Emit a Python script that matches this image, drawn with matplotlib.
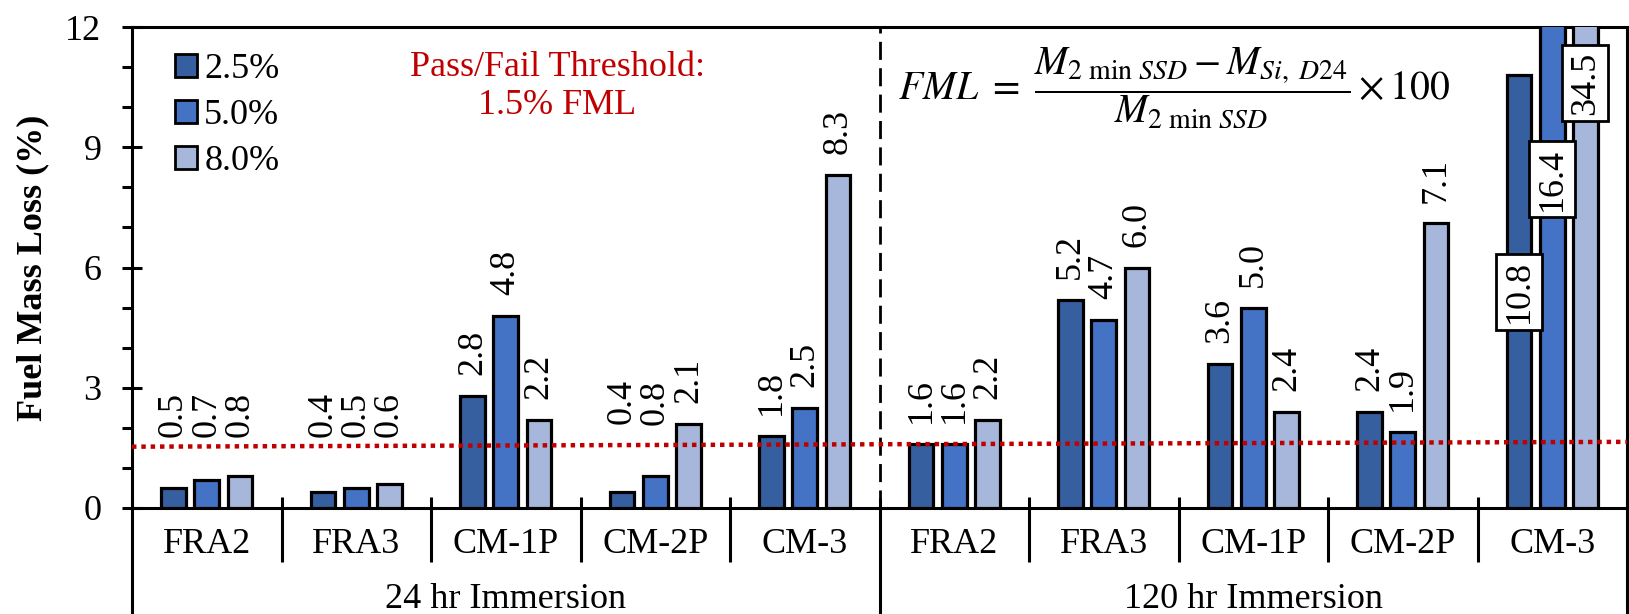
import matplotlib.pyplot as plt
from matplotlib.patches import Patch
from matplotlib.ticker import MultipleLocator

plt.rcParams['font.family'] = ['Liberation Serif', 'DejaVu Serif']
plt.rcParams['mathtext.fontset'] = 'stix'

materials = ['FRA2', 'FRA3', 'CM-1P', 'CM-2P', 'CM-3']
durations = ['24 hr Immersion', '120 hr Immersion']
series = ['2.5%', '5.0%', '8.0%']
# first 5 = 24 hr, last 5 = 120 hr
fml_25 = [0.5, 0.4, 2.8, 0.4, 1.8, 1.6, 5.2, 3.6, 2.4, 10.8]
fml_50 = [0.7, 0.5, 4.8, 0.8, 2.5, 1.6, 4.7, 5.0, 1.9, 16.4]
fml_80 = [0.8, 0.6, 2.2, 2.1, 8.3, 2.2, 6.0, 2.4, 7.1, 34.5]
threshold = 1.5

colors = ['#365F9F', '#4472C4', '#A7B7DB']
W, H = 1629, 614

fig = plt.figure(figsize=(W / 100, H / 100), dpi=100)
ax = fig.add_axes([132 / W, 1 - 508 / H, (1627 - 132) / W, (508 - 27) / H])

n = len(materials) * len(durations)
xs = list(range(n))
bw = 0.165
offs = [-0.222, 0, 0.222]

for vals, off, c in zip([fml_25, fml_50, fml_80], offs, colors):
    ax.bar([x + off for x in xs], vals, width=bw, color=c, edgecolor='black',
           linewidth=2.3, zorder=3)

# labels moved by hand in the original so they clear the threshold line
moved = {(0, 0): 1.77, (0, 1): 1.77, (0, 2): 1.77,
         (1, 0): 1.77, (1, 1): 1.77, (1, 2): 1.77,
         (3, 0): 2.1, (3, 1): 2.07}
for j, (vals, off) in enumerate(zip([fml_25, fml_50, fml_80], offs)):
    for i, v in enumerate(vals):
        if v > 10:
            ax.text(i + off, min(v / 2, 10.6), f'{v:.1f}', rotation=90,
                    ha='center', va='center', fontsize=26, zorder=6,
                    bbox=dict(boxstyle='square,pad=0.18', fc='white',
                              ec='black', lw=2))
        else:
            y = moved.get((i, j), v + 0.52)
            ax.text(i + off, y, f'{v:.1f}', rotation=90, ha='center',
                    va='bottom', fontsize=26, zorder=6)

# threshold line (drawn slightly tilted in the original)
ax.plot([-0.5, n - 0.5], [threshold + 0.03, threshold + 0.15], color='#C00000',
        lw=3.2, ls=(0, (1, 1.1)), zorder=5)

ax.axvline(4.5, color='black', lw=2, ls=(0, (6.5, 3)), zorder=4)

ax.set_xlim(-0.5, n - 0.5)
ax.set_ylim(0, 12)
ax.set_xticks([])
ax.set_yticks([0, 3, 6, 9, 12])
ax.yaxis.set_minor_locator(MultipleLocator(1))
ax.tick_params(axis='y', which='major', direction='inout', length=14,
               width=2.2, pad=15, labelsize=26)
ax.tick_params(axis='y', which='minor', direction='out', length=7, width=2.2)
for s in ax.spines.values():
    s.set_linewidth(2.2)

# category axis separators and labels
trans = ax.get_xaxis_transform()
for k in range(n + 1):
    x = k - 0.5
    if k % 5 == 0:
        ax.plot([x, x], [0.02, -0.23], transform=trans, color='black',
                lw=2.2, clip_on=False, solid_capstyle='butt')
    else:
        ax.plot([x, x], [0.023, -0.112], transform=trans, color='black',
                lw=2.2, clip_on=False, solid_capstyle='butt')
for i in xs:
    ax.text(i, -0.0936, materials[i % 5], transform=trans, ha='center',
            va='baseline', fontsize=26)
for g, name in enumerate(durations):
    ax.text(2 + 5 * g, -0.208, name, transform=trans, ha='center',
            va='baseline', fontsize=26)

handles = [Patch(facecolor=c, edgecolor='black', lw=2) for c in colors]
ax.legend(handles, series, loc='upper left', bbox_to_anchor=(0.029, 0.945),
          frameon=False, fontsize=26, handlelength=0.6, handleheight=0.6,
          handletextpad=0.2, labelspacing=0.36, borderpad=0, borderaxespad=0)

fig.text(33 / W, 1 - 268 / H, 'Fuel Mass Loss (%)', rotation=90, ha='center',
         va='center', fontsize=26, fontweight='bold')
fig.text(557 / W, 1 - 86 / H, 'Pass/Fail Threshold:\n1.5% FML', ha='center',
         va='center', multialignment='center', fontsize=26, color='#C00000')
fig.text(1174 / W, 1 - 88 / H,
         r'$FML\ =\ \dfrac{M_{2\ \mathrm{min}\ SSD}-M_{Si,\ D24}}'
         r'{M_{2\ \mathrm{min}\ SSD}}\times 100$',
         ha='center', va='center', fontsize=28.5)

fig.savefig('out.png', dpi=100)
